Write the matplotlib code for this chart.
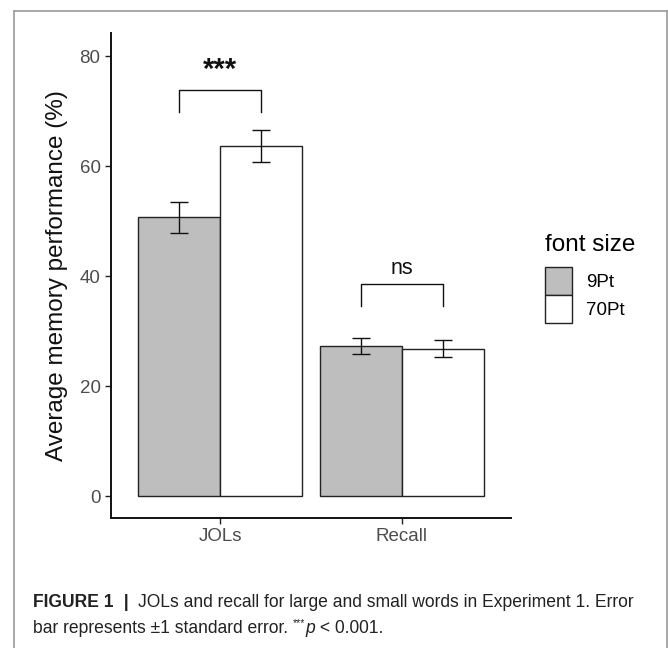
import matplotlib
matplotlib.use("Agg")
import matplotlib.pyplot as plt
from matplotlib.lines import Line2D
from matplotlib.patches import Patch
import numpy as np

plt.rcParams['font.family'] = ['Liberation Sans', 'DejaVu Sans']

# data
categories = ["JOLs", "Recall"]
groups = ["9Pt", "70Pt"]
means_9pt = [50.7, 27.2]
means_70pt = [63.6, 26.8]
se_9pt = [2.85, 1.45]
se_70pt = [2.95, 1.5]
sig_labels = ["***", "ns"]
bracket_top = [73.8, 38.6]
bracket_leg = [69.8, 34.5]

fills = ["#BEBEBE", "#FFFFFF"]

fig = plt.figure(figsize=(6.68, 6.48), dpi=100)
ax = fig.add_axes([111 / 668, 130 / 648, 400 / 668, 485 / 648])

x = np.arange(1, len(categories) + 1)
w = 0.45
for i, (m, s) in enumerate([(means_9pt, se_9pt), (means_70pt, se_70pt)]):
    pos = x + (i - 0.5) * w
    ax.bar(pos, m, width=w, color=fills[i], edgecolor="#222222", linewidth=1.0, zorder=2)
    ax.errorbar(pos, m, yerr=s, fmt="none", ecolor="#111111", elinewidth=1.0,
                capsize=6.5, capthick=1.0, zorder=3)

# significance brackets
for k in range(len(categories)):
    x0, x1 = x[k] - 0.5 * w, x[k] + 0.5 * w
    ax.plot([x0, x0, x1, x1], [bracket_leg[k], bracket_top[k], bracket_top[k], bracket_leg[k]],
            color="#111111", lw=1.0, zorder=3)
    if sig_labels[k] == "ns":
        ax.text(x[k], bracket_top[k] + 0.9, sig_labels[k], ha="center", va="bottom",
                fontsize=15.5, color="#111111")
    else:
        ax.text(x[k], bracket_top[k] + 1.2, sig_labels[k], ha="center", va="bottom",
                fontsize=21, fontweight="bold", color="#111111")

ax.set_xlim(0.4, 2.6)
ax.set_ylim(-4.0, 84.2)
ax.set_xticks(x)
ax.set_xticklabels(categories)
ax.set_yticks([0, 20, 40, 60, 80])
ax.tick_params(axis="both", labelsize=13.5, labelcolor="#4D4D4D", color="#222222",
               length=4, width=1.0)
ax.set_ylabel("Average memory performance (%)", fontsize=17.5, color="#111111", labelpad=8)
for side in ["top", "right"]:
    ax.spines[side].set_visible(False)
for side in ["left", "bottom"]:
    ax.spines[side].set_linewidth(1.4)
    ax.spines[side].set_color("#111111")

handles = [Patch(facecolor=fills[i], edgecolor="#222222", linewidth=1.0) for i in range(2)]
leg = fig.legend(handles, groups, title="font size", loc="upper left",
                 bbox_to_anchor=(545 / 668, 1 - 234 / 648), frameon=False,
                 fontsize=13.5, title_fontsize=17.5, alignment="left",
                 handlelength=1.45, handleheight=1.9, labelspacing=0.0,
                 handletextpad=0.75, borderpad=0.0, borderaxespad=0.0)
leg._legend_box.sep = 8

# figure frame
frame_col = "#9A9A9A"
fig.add_artist(Line2D([14 / 668, 14 / 668], [0, 1 - 11 / 648], transform=fig.transFigure, color=frame_col, lw=1.2))
fig.add_artist(Line2D([14 / 668, 667 / 668], [1 - 11 / 648, 1 - 11 / 648], transform=fig.transFigure, color=frame_col, lw=1.2))
fig.add_artist(Line2D([667 / 668, 667 / 668], [0, 1 - 11 / 648], transform=fig.transFigure, color=frame_col, lw=1.2))

# caption
cap_font = ['Liberation Sans', 'DejaVu Sans']
cs = 12.65
ink = "#222222"
t1 = fig.text(33 / 668, 1 - 607 / 648, "FIGURE 1", fontsize=cs, fontweight="bold",
              family=cap_font, color=ink, va="baseline")
a1 = ax.annotate("  |  ", xy=(1, 0), xycoords=t1, va="bottom", fontsize=cs, fontweight="bold",
                 family=cap_font, color=ink, annotation_clip=False)
a2 = ax.annotate("JOLs and recall for large and small words in Experiment 1. Error", xy=(1, 0),
                 xycoords=a1, va="bottom", fontsize=cs, family=cap_font, color=ink,
                 annotation_clip=False)
l2 = fig.text(33 / 668, 1 - 633 / 648, "bar represents \u00b11 standard error. ", fontsize=cs,
              family=cap_font, color=ink, va="baseline")
a3 = ax.annotate("***", xy=(1, 0.5), xycoords=l2, va="bottom", fontsize=7.5, family=cap_font,
                 color=ink, annotation_clip=False)
a4 = ax.annotate("p", xy=(1, 0), xycoords=(a3, l2), va="bottom", fontsize=cs,
                 family=cap_font, style="italic", color=ink, annotation_clip=False)
a5 = ax.annotate(" < 0.001.", xy=(1, 0), xycoords=a4, va="bottom", fontsize=cs, family=cap_font,
                 color=ink, annotation_clip=False)

fig.savefig("out.png", dpi=100)
